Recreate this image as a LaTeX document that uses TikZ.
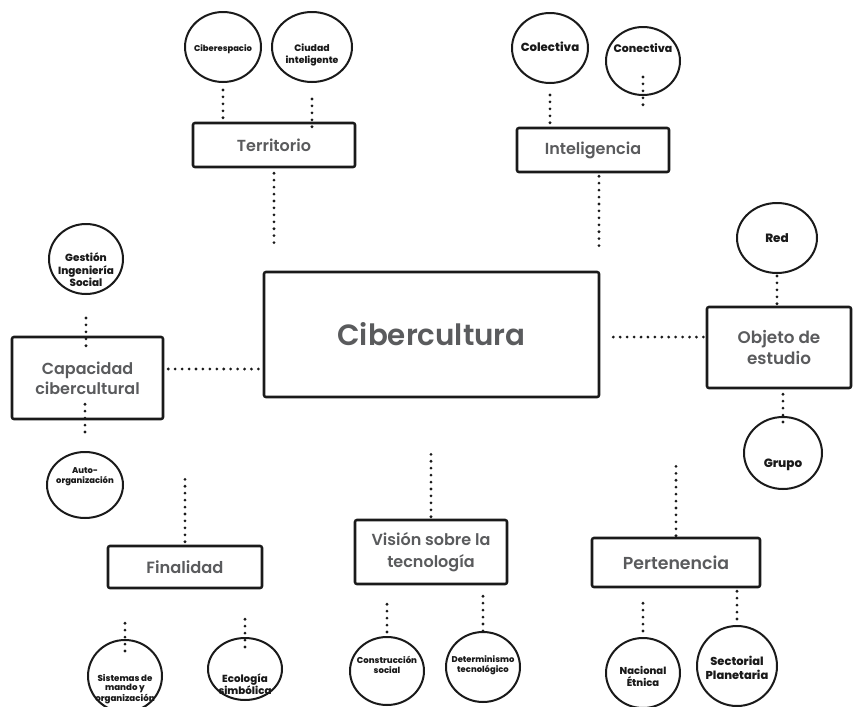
\documentclass[tikz,border=0pt]{standalone}
\usepackage{fontspec}
\setmainfont{Poppins}
\newfontfamily\semib{Poppins SemiBold}
\newfontfamily\heavy{Poppins ExtraBold}
\usetikzlibrary{shapes.geometric,calc}
\definecolor{ink}{HTML}{1A1A1A}
\definecolor{boxtext}{HTML}{5A5B5D}
\newcommand\fs[2]{\fontsize{#1}{#2}\selectfont}
\tikzset{
  concept/.style={draw=ink, line width=1.9pt, rounded corners=1.5pt, rectangle,
    inner sep=0pt, text=boxtext, align=center},
  bubble/.style={draw=ink, line width=1.5pt, ellipse, inner sep=0pt},
  blabel/.style={text=ink, align=center, inner sep=0pt},
  dotline/.style={draw=ink, line width=2.3pt, line cap=round, dash pattern=on 0pt off 5.2pt},
}
\begin{document}
\begin{tikzpicture}[x=0.75pt, y=-0.75pt]
\useasboundingbox[fill=white] (0,0) rectangle (857,707);

% central concept and the seven dimensions
\node[concept, minimum width=251.25pt, minimum height=93.75pt, font=\semib\fs{22}{26}] (cib) at (431.5,334.5) {Cibercultura};
\node[concept, minimum width=121.5pt, minimum height=33pt, font=\semib\fs{12}{15}] (ter) at (274,145) {Territorio};
\node[concept, minimum width=114pt, minimum height=33pt, font=\semib\fs{12}{15}] (intel) at (593,150) {Inteligencia};
\node[concept, minimum width=113.25pt, minimum height=61.5pt, font=\semib\fs{12}{15}] (cap) at (87.5,378) {Capacidad\\cibercultural};
\node[concept, minimum width=108pt, minimum height=60.75pt, font=\semib\fs{12.6}{15.5}] (obj) at (779,347.5) {Objeto de\\estudio};
\node[concept, minimum width=115.5pt, minimum height=31.5pt, font=\semib\fs{12.2}{15}] (fin) at (185,567) {Finalidad};
\node[concept, minimum width=114pt, minimum height=48pt, font=\semib\fs{12}{17}] (vis) at (431,552) {Visión sobre la\\tecnología};
\node[concept, minimum width=126pt, minimum height=36.75pt, font=\semib\fs{13}{15}] (per) at (676,562.5) {Pertenencia};

% sub-concepts
\node[bubble, minimum width=57pt, minimum height=52.5pt,
  label={[blabel, font=\heavy\fs{6.3}{8}, yshift=-1.5pt]center:Ciberespacio}] (cibe) at (223,47) {};
\node[bubble, minimum width=60pt, minimum height=52.5pt,
  label={[blabel, font=\heavy\fs{7}{8.3}, yshift=-6pt]center:Ciudad\\inteligente}] (ciud) at (312,47) {};
\node[bubble, minimum width=57pt, minimum height=52.5pt,
  label={[blabel, font=\heavy\fs{8.8}{10}, yshift=0.75pt]center:Colectiva}] (colec) at (550,48) {};
\node[bubble, minimum width=55.5pt, minimum height=51pt,
  label={[blabel, font=\heavy\fs{8.2}{10}, yshift=9.75pt]center:Conectiva}] (conec) at (643,61) {};
\node[bubble, minimum width=55.5pt, minimum height=52.5pt,
  label={[blabel, font=\heavy\fs{7.8}{9.4}, yshift=-8.25pt]center:Gestión\\Ingeniería\\Social}] (gest) at (86,259) {};
\node[bubble, minimum width=57pt, minimum height=49.5pt,
  label={[blabel, font=\heavy\fs{6.3}{7.5}, yshift=6pt]center:Auto-\\organización}] (auto) at (85,485) {};
\node[bubble, minimum width=60pt, minimum height=52.5pt,
  label={[blabel, font=\heavy\fs{9}{10}]center:Red}] (red) at (777,238) {};
\node[bubble, minimum width=58.5pt, minimum height=54pt,
  label={[blabel, font=\heavy\fs{9}{10}, yshift=-9pt]center:Grupo}] (grupo) at (783,453) {};
\node[bubble, minimum width=55.5pt, minimum height=54pt,
  label={[blabel, font=\heavy\fs{6.5}{7.2}, yshift=-9.75pt]center:Sistemas de\\mando y\\organización}] (sist) at (125,676) {};
\node[bubble, minimum width=55.5pt, minimum height=46.5pt,
  label={[blabel, font=\heavy\fs{7.7}{9}, yshift=-11.25pt]center:Ecología\\simbólica}] (eco) at (245,669) {};
\node[bubble, minimum width=55.5pt, minimum height=51pt,
  label={[blabel, font=\heavy\fs{6.4}{7.6}, yshift=4.5pt]center:Construcción\\social}] (cons) at (387,671) {};
\node[bubble, minimum width=55.5pt, minimum height=52.5pt,
  label={[blabel, font=\heavy\fs{6.3}{7.6}, yshift=1.5pt]center:Determinismo\\tecnológico}] (det) at (483,667) {};
\node[bubble, minimum width=55.5pt, minimum height=52.5pt,
  label={[blabel, font=\heavy\fs{7.5}{9}, yshift=-2.25pt]center:Nacional\\Étnica}] (nac) at (643,673) {};
\node[bubble, minimum width=60pt, minimum height=60pt,
  label={[blabel, font=\heavy\fs{8.6}{10}, yshift=-1.5pt]center:Sectorial\\Planetaria}] (sect) at (737,666) {};

% dotted links
\draw[dotline, shorten <=5.25pt] (cibe.south) -- (cibe.south |- ter.north);
\draw[dotline, shorten <=12pt, shorten >=-7.5pt] (ciud.south) -- (ciud.south |- ter.north);
\draw[dotline, shorten <=3.75pt, shorten >=18pt] (ter.south) -- (ter.south |- cib.north);

\draw[dotline, shorten <=8.25pt] (colec.south) -- (colec.south |- intel.north);
\draw[dotline, shorten <=-14.25pt, shorten >=13.5pt] (conec.south) -- (conec.south |- intel.north);
\draw[dotline, shorten <=2.25pt, shorten >=18pt] ([xshift=4.5pt]intel.south) -- ([xshift=4.5pt]intel.south |- cib.north);

\draw[dotline, shorten <=17.25pt, shorten >=-11.25pt] (gest.south) -- (gest.south |- cap.north);
\draw[dotline, shorten <=-12pt, shorten >=10.5pt] (auto.north |- cap.south) -- (auto.north);
\draw[dotline, shorten <=3pt, shorten >=1.5pt] ([yshift=6.75pt]cap.east) -- ([yshift=6.75pt]cap.east -| cib.west);

\draw[dotline, shorten <=9.75pt, shorten >=1.5pt] ([yshift=-1.9pt]cib.east) -- ([yshift=-1.9pt]cib.east -| obj.west);
\draw[dotline, shorten <=1.5pt] (red.south) -- (red.south |- obj.north);
\draw[dotline, shorten <=3.75pt, shorten >=-8.25pt] (grupo.north |- obj.south) -- (grupo.north);

\draw[dotline, shorten <=2.25pt, shorten >=58.5pt] (fin.north) -- (fin.north |- cib.south);
\draw[dotline, shorten <=25.5pt, shorten >=-9.75pt] (sist.north |- fin.south) -- (sist.north);
\draw[dotline, shorten <=22.5pt, shorten >=-10.5pt] (eco.north |- fin.south) -- (eco.north);

\draw[dotline, shorten <=1.5pt, shorten >=39.75pt] (vis.north) -- (vis.north |- cib.south);
\draw[dotline, shorten <=14.25pt, shorten >=-1.5pt] (cons.north |- vis.south) -- (cons.north);
\draw[dotline, shorten <=8.25pt, shorten >=-2.25pt] (det.north |- vis.south) -- (det.north);

\draw[dotline, shorten <=0.75pt, shorten >=49.5pt] (per.north) -- (per.north |- cib.south);
\draw[dotline, shorten <=11.25pt] (nac.north |- per.south) -- (nac.north);
\draw[dotline, shorten <=2.25pt, shorten >=0.75pt] (sect.north |- per.south) -- (sect.north);
\end{tikzpicture}
\end{document}
